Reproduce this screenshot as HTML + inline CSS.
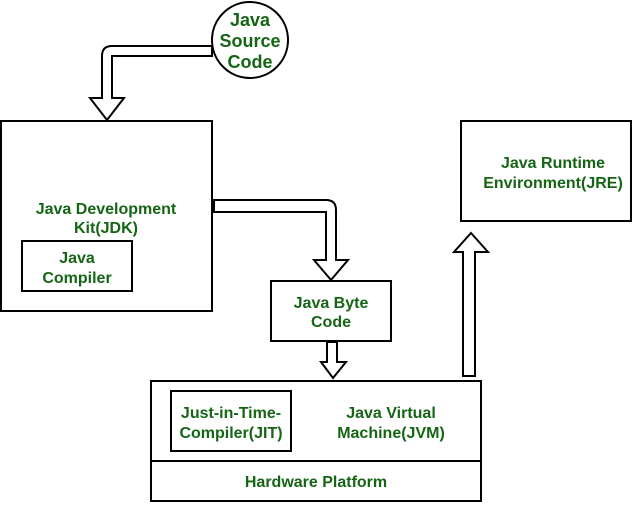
<!DOCTYPE html>
<html><head><style>body{margin:0;background:#fff}svg text{font-family:"Liberation Sans",sans-serif;font-weight:bold;font-size:16px;fill:#156515;text-anchor:middle}</style></head>
<body><svg width="632" height="502" viewBox="0 0 632 502" xmlns="http://www.w3.org/2000/svg">
<g fill="#fff" stroke="#000" stroke-width="2">
<rect x="1" y="121" width="211" height="190"/>
<rect x="22" y="241" width="110" height="50"/>
<rect x="271" y="281" width="120" height="60"/>
<rect x="461" y="121" width="170" height="100"/>
<rect x="151" y="381" width="330" height="80"/>
<rect x="151" y="461" width="330" height="40"/>
<rect x="171" y="391" width="120" height="60"/>
<circle cx="250" cy="40" r="38"/>
<path d="M212 46 H112 Q102 46 102 56 V98 H90 L107 120 L124 98 H112 V56 H212 Z"/>
<path d="M214 200 H326 Q336 200 336 210 V260 H348 L331 280 L314 260 H326 V212 H214 Z"/>
<path d="M327 342 H337 V362 H346 L333 378 L321 362 H327 Z"/>
<path d="M463 376 H475 V252 H488 L471 233 L454 252 H463 Z"/>
</g>
<g style="font-size:18px"><text x="250" y="26" style="font-size:18px">Java</text><text x="250" y="47" style="font-size:18px">Source</text><text x="250" y="68" style="font-size:18px">Code</text></g>
<text x="106" y="214">Java Development</text><text x="106" y="233">Kit(JDK)</text>
<text x="77" y="263">Java</text><text x="77" y="283">Compiler</text>
<text x="331" y="308">Java Byte</text><text x="331" y="327">Code</text>
<text x="553" y="168">Java Runtime</text><text x="553" y="188">Environment(JRE)</text>
<text x="231" y="418">Just-in-Time-</text><text x="231" y="438">Compiler(JIT)</text>
<text x="391" y="418">Java Virtual</text><text x="391" y="438">Machine(JVM)</text>
<text x="316" y="487">Hardware Platform</text>
</svg></body></html>
